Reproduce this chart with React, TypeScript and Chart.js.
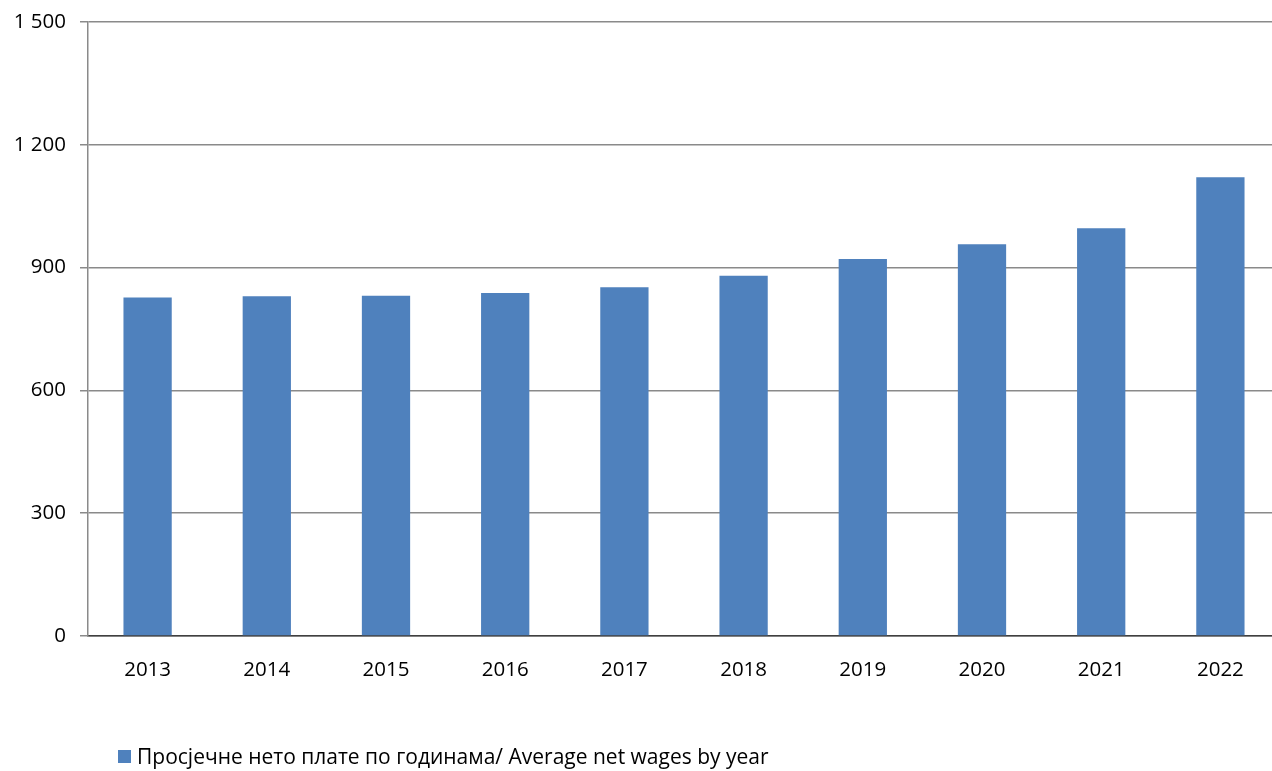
import React, { useEffect, useRef } from "react";
import { Chart, registerables } from "chart.js";

Chart.register(...registerables);

const years = ["2013", "2014", "2015", "2016", "2017", "2018", "2019", "2020", "2021", "2022"];
const wages = [827, 830, 831, 838, 852, 880, 921, 957, 996, 1121];
const seriesLabel = "Просјечне нето плате по годинама/ Average net wages by year";
const yMax = 1500;
const yStep = 300;

const FONT = "'Open Sans', 'Noto Sans', sans-serif";
const BAR = "#4F81BD";

export default function App() {
  const ref = useRef<HTMLCanvasElement | null>(null);

  useEffect(() => {
    document.body.style.margin = "0";
    const canvas = ref.current;
    if (!canvas) return;
    const chart = new Chart(canvas, {
      type: "bar",
      data: {
        labels: years,
        datasets: [
          {
            label: seriesLabel,
            data: wages,
            backgroundColor: BAR,
            borderWidth: 0,
            barPercentage: 0.81,
            categoryPercentage: 0.5,
          },
        ],
      },
      options: {
        animation: false,
        responsive: false,
        maintainAspectRatio: false,
        layout: { padding: { top: 22, right: 0, bottom: 75, left: 0 } },
        plugins: {
          legend: { display: false },
          tooltip: { enabled: false },
        },
        scales: {
          x: {
            grid: { display: false, drawTicks: false },
            border: { display: true, color: "#404040", width: 1.5 },
            ticks: { color: "#000", font: { family: FONT, size: 20.5 }, padding: 22 },
            afterFit: (s: any) => {
              s.height = 60;
              s.paddingLeft = 0;
              s.paddingRight = 0;
            },
          },
          y: {
            min: 0,
            max: yMax,
            ticks: {
              stepSize: yStep,
              color: "#000",
              font: { family: FONT, size: 20.5 },
              padding: 14,
              callback: (v: any) => String(v).replace(/\B(?=(\d{3})+(?!\d))/g, " "),
            },
            grid: { color: "#8a8a8a", lineWidth: 1.5, tickLength: 8, tickColor: "#8a8a8a" },
            border: { display: true, color: "#8a8a8a", width: 1.5 },
            afterFit: (s: any) => {
              s.width = 88;
              s.paddingTop = 0;
              s.paddingBottom = 0;
            },
          },
        },
      },
    });
    return () => chart.destroy();
  }, []);

  return (
    <div style={{ position: "relative", width: 1272, height: 771, overflow: "hidden" }}>
      <canvas ref={ref} width={1280} height={771} style={{ display: "block", width: 1280, height: 771 }} />
      <div
        style={{
          position: "absolute",
          left: 118,
          top: 742,
          display: "flex",
          alignItems: "center",
          fontFamily: FONT,
          fontSize: 21,
          color: "#000",
          whiteSpace: "nowrap",
        }}
      >
        <span style={{ display: "inline-block", width: 13, height: 13, background: BAR, marginRight: 6 }} />
        <span>{seriesLabel}</span>
      </div>
    </div>
  );
}
